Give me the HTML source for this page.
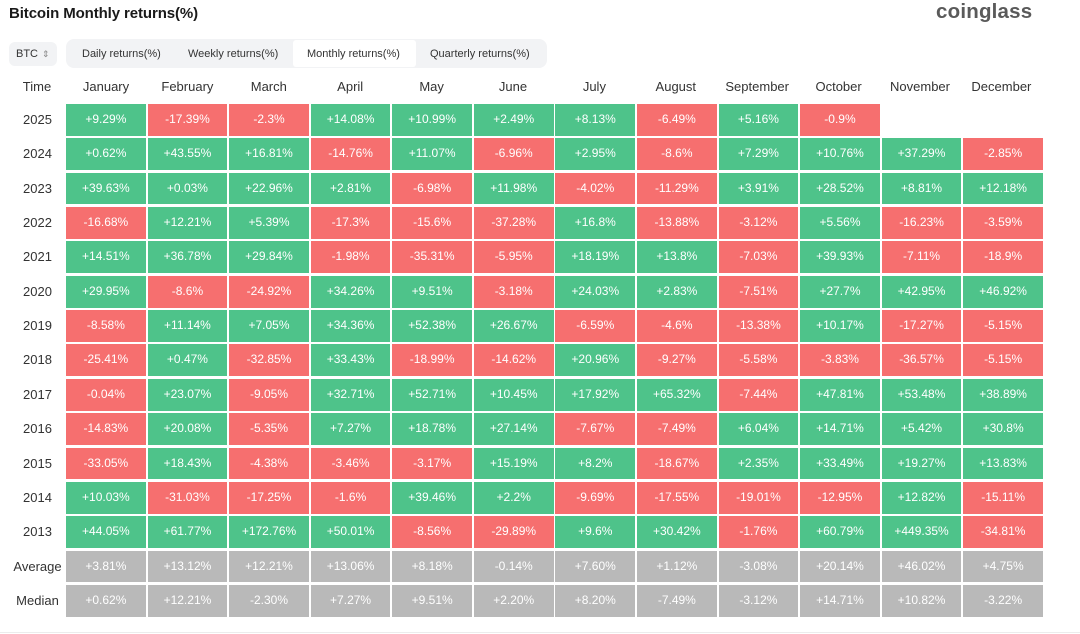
<!DOCTYPE html>
<html><head><meta charset="utf-8">
<style>
*{margin:0;padding:0;box-sizing:border-box}
html,body{width:1080px;height:634px;background:#fff;overflow:hidden}
body{position:relative;font-family:"Liberation Sans",sans-serif;color:#333}
.title{position:absolute;left:9px;top:5px;font-size:15px;font-weight:bold;color:#1a1a1a;letter-spacing:-0.1px}
.logo{position:absolute;left:936px;top:0px;font-size:20.5px;font-weight:bold;color:#5a5a5a;letter-spacing:0.2px}
.btc{position:absolute;left:9px;top:42px;width:48px;height:24px;background:#f2f3f5;border-radius:6px;font-size:11px;line-height:24px;padding-left:7px;color:#333}
.btc span{position:absolute;left:33px;top:0;font-size:9px;color:#888}
.tabs{position:absolute;left:66px;top:39px;width:481px;height:29px;background:#f2f3f5;border-radius:8px}
.active{position:absolute;left:293px;top:40px;width:123px;height:27px;background:#fff;border-radius:3px}
.tab{position:absolute;top:48px;font-size:11px;color:#333;white-space:nowrap}
.hdr{position:absolute;top:79px;font-size:13px;color:#333;text-align:center;width:80px}
.row{position:absolute;left:0;width:1080px;height:31.8px}
.lab{position:absolute;left:0;width:75px;text-align:center;font-size:13px;line-height:32.5px;color:#333}
.cells{position:absolute;left:66px;top:0;width:977px;height:31.8px;display:grid;grid-template-columns:repeat(12,1fr);column-gap:1.8px}
.cells div{height:31.8px;line-height:31.8px;text-align:center;color:#fff;font-size:12px}
.g{background:#4ec38a}
.r{background:#f66f6f}
.y{background:#b9b9b9}
.e{background:#fff}
.line{position:absolute;left:0;top:632px;width:1080px;height:1px;background:#ececec}
</style></head><body>
<div class="title">Bitcoin Monthly returns(%)</div>
<div class="logo">coinglass</div>
<div class="btc">BTC<span>&#8661;</span></div>
<div class="tabs"></div>
<div class="active"></div>
<div class="tab" style="left:82px">Daily returns(%)</div>
<div class="tab" style="left:188px">Weekly returns(%)</div>
<div class="tab" style="left:307px">Monthly returns(%)</div>
<div class="tab" style="left:430px">Quarterly returns(%)</div>

<div class="hdr" style="left:-3px">Time</div>
<div class="hdr" style="left:66px">January</div>
<div class="hdr" style="left:147.4px">February</div>
<div class="hdr" style="left:228.8px">March</div>
<div class="hdr" style="left:310.2px">April</div>
<div class="hdr" style="left:391.6px">May</div>
<div class="hdr" style="left:473px">June</div>
<div class="hdr" style="left:554.4px">July</div>
<div class="hdr" style="left:635.8px">August</div>
<div class="hdr" style="left:717.2px">September</div>
<div class="hdr" style="left:798.6px">October</div>
<div class="hdr" style="left:880px">November</div>
<div class="hdr" style="left:961.4px">December</div>

<div class="row" style="top:104px"><div class="lab">2025</div><div class="cells">
<div class="g">+9.29%</div><div class="r">-17.39%</div><div class="r">-2.3%</div><div class="g">+14.08%</div><div class="g">+10.99%</div><div class="g">+2.49%</div><div class="g">+8.13%</div><div class="r">-6.49%</div><div class="g">+5.16%</div><div class="r">-0.9%</div><div class="e"></div><div class="e"></div></div></div>

<div class="row" style="top:138.35px"><div class="lab">2024</div><div class="cells">
<div class="g">+0.62%</div><div class="g">+43.55%</div><div class="g">+16.81%</div><div class="r">-14.76%</div><div class="g">+11.07%</div><div class="r">-6.96%</div><div class="g">+2.95%</div><div class="r">-8.6%</div><div class="g">+7.29%</div><div class="g">+10.76%</div><div class="g">+37.29%</div><div class="r">-2.85%</div></div></div>

<div class="row" style="top:172.7px"><div class="lab">2023</div><div class="cells">
<div class="g">+39.63%</div><div class="g">+0.03%</div><div class="g">+22.96%</div><div class="g">+2.81%</div><div class="r">-6.98%</div><div class="g">+11.98%</div><div class="r">-4.02%</div><div class="r">-11.29%</div><div class="g">+3.91%</div><div class="g">+28.52%</div><div class="g">+8.81%</div><div class="g">+12.18%</div></div></div>

<div class="row" style="top:207.05px"><div class="lab">2022</div><div class="cells">
<div class="r">-16.68%</div><div class="g">+12.21%</div><div class="g">+5.39%</div><div class="r">-17.3%</div><div class="r">-15.6%</div><div class="r">-37.28%</div><div class="g">+16.8%</div><div class="r">-13.88%</div><div class="r">-3.12%</div><div class="g">+5.56%</div><div class="r">-16.23%</div><div class="r">-3.59%</div></div></div>

<div class="row" style="top:241.4px"><div class="lab">2021</div><div class="cells">
<div class="g">+14.51%</div><div class="g">+36.78%</div><div class="g">+29.84%</div><div class="r">-1.98%</div><div class="r">-35.31%</div><div class="r">-5.95%</div><div class="g">+18.19%</div><div class="g">+13.8%</div><div class="r">-7.03%</div><div class="g">+39.93%</div><div class="r">-7.11%</div><div class="r">-18.9%</div></div></div>

<div class="row" style="top:275.75px"><div class="lab">2020</div><div class="cells">
<div class="g">+29.95%</div><div class="r">-8.6%</div><div class="r">-24.92%</div><div class="g">+34.26%</div><div class="g">+9.51%</div><div class="r">-3.18%</div><div class="g">+24.03%</div><div class="g">+2.83%</div><div class="r">-7.51%</div><div class="g">+27.7%</div><div class="g">+42.95%</div><div class="g">+46.92%</div></div></div>

<div class="row" style="top:310.1px"><div class="lab">2019</div><div class="cells">
<div class="r">-8.58%</div><div class="g">+11.14%</div><div class="g">+7.05%</div><div class="g">+34.36%</div><div class="g">+52.38%</div><div class="g">+26.67%</div><div class="r">-6.59%</div><div class="r">-4.6%</div><div class="r">-13.38%</div><div class="g">+10.17%</div><div class="r">-17.27%</div><div class="r">-5.15%</div></div></div>

<div class="row" style="top:344.45px"><div class="lab">2018</div><div class="cells">
<div class="r">-25.41%</div><div class="g">+0.47%</div><div class="r">-32.85%</div><div class="g">+33.43%</div><div class="r">-18.99%</div><div class="r">-14.62%</div><div class="g">+20.96%</div><div class="r">-9.27%</div><div class="r">-5.58%</div><div class="r">-3.83%</div><div class="r">-36.57%</div><div class="r">-5.15%</div></div></div>

<div class="row" style="top:378.8px"><div class="lab">2017</div><div class="cells">
<div class="r">-0.04%</div><div class="g">+23.07%</div><div class="r">-9.05%</div><div class="g">+32.71%</div><div class="g">+52.71%</div><div class="g">+10.45%</div><div class="g">+17.92%</div><div class="g">+65.32%</div><div class="r">-7.44%</div><div class="g">+47.81%</div><div class="g">+53.48%</div><div class="g">+38.89%</div></div></div>

<div class="row" style="top:413.15px"><div class="lab">2016</div><div class="cells">
<div class="r">-14.83%</div><div class="g">+20.08%</div><div class="r">-5.35%</div><div class="g">+7.27%</div><div class="g">+18.78%</div><div class="g">+27.14%</div><div class="r">-7.67%</div><div class="r">-7.49%</div><div class="g">+6.04%</div><div class="g">+14.71%</div><div class="g">+5.42%</div><div class="g">+30.8%</div></div></div>

<div class="row" style="top:447.5px"><div class="lab">2015</div><div class="cells">
<div class="r">-33.05%</div><div class="g">+18.43%</div><div class="r">-4.38%</div><div class="r">-3.46%</div><div class="r">-3.17%</div><div class="g">+15.19%</div><div class="g">+8.2%</div><div class="r">-18.67%</div><div class="g">+2.35%</div><div class="g">+33.49%</div><div class="g">+19.27%</div><div class="g">+13.83%</div></div></div>

<div class="row" style="top:481.85px"><div class="lab">2014</div><div class="cells">
<div class="g">+10.03%</div><div class="r">-31.03%</div><div class="r">-17.25%</div><div class="r">-1.6%</div><div class="g">+39.46%</div><div class="g">+2.2%</div><div class="r">-9.69%</div><div class="r">-17.55%</div><div class="r">-19.01%</div><div class="r">-12.95%</div><div class="g">+12.82%</div><div class="r">-15.11%</div></div></div>

<div class="row" style="top:516.2px"><div class="lab">2013</div><div class="cells">
<div class="g">+44.05%</div><div class="g">+61.77%</div><div class="g">+172.76%</div><div class="g">+50.01%</div><div class="r">-8.56%</div><div class="r">-29.89%</div><div class="g">+9.6%</div><div class="g">+30.42%</div><div class="r">-1.76%</div><div class="g">+60.79%</div><div class="g">+449.35%</div><div class="r">-34.81%</div></div></div>

<div class="row" style="top:550.55px"><div class="lab">Average</div><div class="cells">
<div class="y">+3.81%</div><div class="y">+13.12%</div><div class="y">+12.21%</div><div class="y">+13.06%</div><div class="y">+8.18%</div><div class="y">-0.14%</div><div class="y">+7.60%</div><div class="y">+1.12%</div><div class="y">-3.08%</div><div class="y">+20.14%</div><div class="y">+46.02%</div><div class="y">+4.75%</div></div></div>

<div class="row" style="top:584.9px"><div class="lab">Median</div><div class="cells">
<div class="y">+0.62%</div><div class="y">+12.21%</div><div class="y">-2.30%</div><div class="y">+7.27%</div><div class="y">+9.51%</div><div class="y">+2.20%</div><div class="y">+8.20%</div><div class="y">-7.49%</div><div class="y">-3.12%</div><div class="y">+14.71%</div><div class="y">+10.82%</div><div class="y">-3.22%</div></div></div>

<div class="line"></div>
</body></html>
